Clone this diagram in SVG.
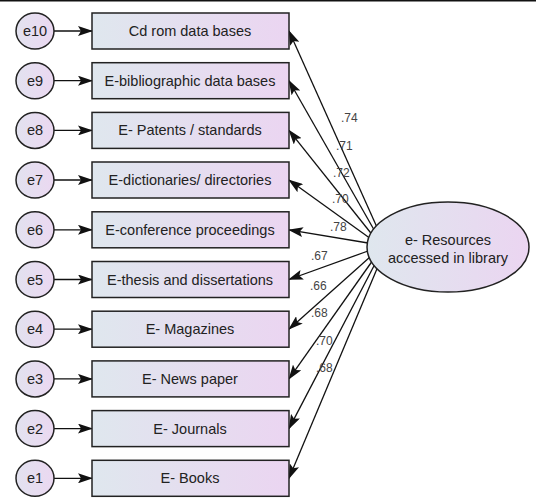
<svg xmlns="http://www.w3.org/2000/svg" width="536" height="498" viewBox="0 0 536 498">
<defs>
<linearGradient id="g" x1="0" y1="0" x2="1" y2="0">
<stop offset="0" stop-color="#dfe7ee"/>
<stop offset="1" stop-color="#ebd5f1"/>
</linearGradient>
<linearGradient id="gc" x1="0" y1="0" x2="1" y2="0">
<stop offset="0" stop-color="#e2e2ef"/>
<stop offset="1" stop-color="#ebd8f1"/>
</linearGradient>
<marker id="ah" markerWidth="15" markerHeight="10" refX="14" refY="5" orient="auto" markerUnits="userSpaceOnUse">
<path d="M0,0 L15,5 L0,10 L3,5 Z" fill="#111"/>
</marker>
<style>
.box{fill:url(#g);stroke:#222;stroke-width:1.5}
.err{fill:url(#gc);stroke:#222;stroke-width:1.5}
.lat{fill:url(#g);stroke:#222;stroke-width:1.5}
.t{font-family:"Liberation Sans",Arial,sans-serif;font-size:14.5px;fill:#222;text-anchor:middle}
.c{font-family:"Liberation Sans",Arial,sans-serif;font-size:12px;fill:#444}
.ln{stroke:#111;stroke-width:1.3;fill:none;marker-end:url(#ah)}
</style>
</defs>
<rect width="536" height="498" fill="#fff"/>
<line x1="0" y1="0.75" x2="536" y2="0.75" stroke="#111" stroke-width="1.5"/>

<g id="connectors">
<line class="ln" x1="54" y1="31" x2="92" y2="31"/>
<line class="ln" x1="54" y1="80.7" x2="92" y2="80.7"/>
<line class="ln" x1="54" y1="130.4" x2="92" y2="130.4"/>
<line class="ln" x1="54" y1="180" x2="92" y2="180"/>
<line class="ln" x1="54" y1="229.8" x2="92" y2="229.8"/>
<line class="ln" x1="54" y1="279.5" x2="92" y2="279.5"/>
<line class="ln" x1="54" y1="329.2" x2="92" y2="329.2"/>
<line class="ln" x1="54" y1="378.9" x2="92" y2="378.9"/>
<line class="ln" x1="54" y1="428.6" x2="92" y2="428.6"/>
<line class="ln" x1="54" y1="478.3" x2="92" y2="478.3"/>

<line class="ln" x1="380" y1="234" x2="289" y2="31"/>
<line class="ln" x1="377" y1="235" x2="289" y2="80.7"/>
<line class="ln" x1="374" y1="237" x2="289" y2="130.4"/>
<line class="ln" x1="371" y1="239" x2="289" y2="180"/>
<line class="ln" x1="368" y1="243" x2="289" y2="229.8"/>
<line class="ln" x1="368" y1="251" x2="289" y2="279.5"/>
<line class="ln" x1="370" y1="257" x2="289" y2="329.2"/>
<line class="ln" x1="373" y1="260" x2="289" y2="378.9"/>
<line class="ln" x1="376" y1="262" x2="289" y2="428.6"/>
<line class="ln" x1="379" y1="264" x2="289" y2="478.3"/>

<text class="c" x="341" y="122">.74</text>
<text class="c" x="336" y="150">.71</text>
<text class="c" x="333" y="177">.72</text>
<text class="c" x="332" y="203">.70</text>
<text class="c" x="330" y="231">.78</text>
<text class="c" x="311" y="260">.67</text>
<text class="c" x="310" y="290">.66</text>
<text class="c" x="311" y="317">.68</text>
<text class="c" x="316" y="345">.70</text>
<text class="c" x="316" y="372">.68</text>
</g>

<g id="latent">
<ellipse class="lat" cx="448" cy="247" rx="81" ry="45"/>
<text class="t" x="448" y="245">e- Resources</text>
<text class="t" x="448" y="263">accessed in library</text>
</g>

<g id="n10"><ellipse class="err" cx="35" cy="31" rx="19" ry="18"/><text class="t" x="35" y="36">e10</text><rect class="box" x="92" y="13" width="197" height="36"/><text class="t" x="190" y="36">Cd rom data bases</text></g>
<g id="n9"><ellipse class="err" cx="35" cy="80.7" rx="19" ry="18"/><text class="t" x="35" y="85.7">e9</text><rect class="box" x="92" y="62.7" width="197" height="36"/><text class="t" x="190" y="85.7">E-bibliographic data bases</text></g>
<g id="n8"><ellipse class="err" cx="35" cy="130.4" rx="19" ry="18"/><text class="t" x="35" y="135.4">e8</text><rect class="box" x="92" y="112.4" width="197" height="36"/><text class="t" x="190" y="135.4">E- Patents / standards</text></g>
<g id="n7"><ellipse class="err" cx="35" cy="180" rx="19" ry="18"/><text class="t" x="35" y="185">e7</text><rect class="box" x="92" y="162" width="197" height="36"/><text class="t" x="190" y="185">E-dictionaries/ directories</text></g>
<g id="n6"><ellipse class="err" cx="35" cy="229.8" rx="19" ry="18"/><text class="t" x="35" y="234.8">e6</text><rect class="box" x="92" y="211.8" width="197" height="36"/><text class="t" x="190" y="234.8">E-conference proceedings</text></g>
<g id="n5"><ellipse class="err" cx="35" cy="279.5" rx="19" ry="18"/><text class="t" x="35" y="284.5">e5</text><rect class="box" x="92" y="261.5" width="197" height="36"/><text class="t" x="190" y="284.5">E-thesis and dissertations</text></g>
<g id="n4"><ellipse class="err" cx="35" cy="329.2" rx="19" ry="18"/><text class="t" x="35" y="334.2">e4</text><rect class="box" x="92" y="311.2" width="197" height="36"/><text class="t" x="190" y="334.2">E- Magazines</text></g>
<g id="n3"><ellipse class="err" cx="35" cy="378.9" rx="19" ry="18"/><text class="t" x="35" y="383.9">e3</text><rect class="box" x="92" y="360.9" width="197" height="36"/><text class="t" x="190" y="383.9">E- News paper</text></g>
<g id="n2"><ellipse class="err" cx="35" cy="428.6" rx="19" ry="18"/><text class="t" x="35" y="433.6">e2</text><rect class="box" x="92" y="410.6" width="197" height="36"/><text class="t" x="190" y="433.6">E- Journals</text></g>
<g id="n1"><ellipse class="err" cx="35" cy="478.3" rx="19" ry="18"/><text class="t" x="35" y="483.3">e1</text><rect class="box" x="92" y="460.3" width="197" height="36"/><text class="t" x="190" y="483.3">E- Books</text></g>
</svg>
